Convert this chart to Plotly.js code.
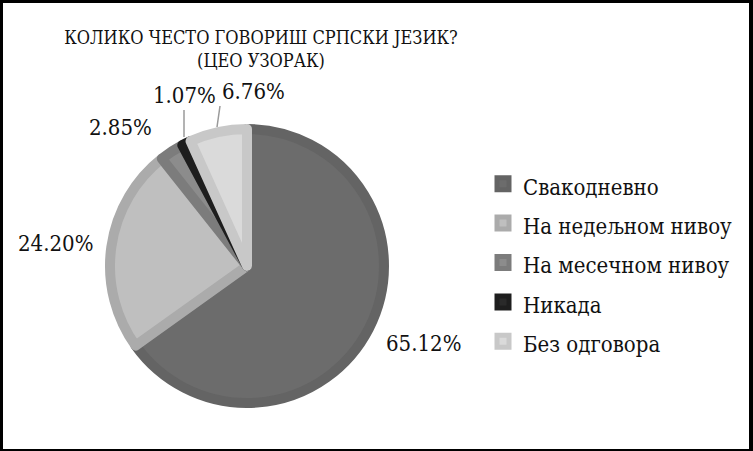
<!DOCTYPE html>
<html>
<head>
<meta charset="utf-8">
<script src="https://cdn.plot.ly/plotly-3.0.1.min.js"></script>
<style>
  html, body { margin:0; padding:0; background:#fff; }
  #frame { box-sizing:border-box; width:753px; height:451px;
           border-style:solid; border-color:#000; border-width:3px 4px 2px 3px; }
  #chart { width:746px; height:446px; }
</style>
</head>
<body>
<div id="frame"><div id="chart"></div></div>
<script>
const labels  = ['Свакодневно','На недељном нивоу','На месечном нивоу','Никада','Без одговора'];
const values  = [65.12, 24.20, 2.85, 1.07, 6.76];
const fills   = ['#6c6c6c','#bfbfbf','#8c8c8c','#2a2a2a','#dadada'];
const rings   = ['#646464','#ababab','#7c7c7c','#1e1e1e','#c8c8c8'];

const W = 746, H = 446, OX = 3, OY = 3;
const px = X => (X - OX) / W;
const py = Y => 1 - (Y - OY) / H;
const serif = 'DejaVu Serif Condensed';

// pie centre / radius in page pixels
const cx = 247, cy = 266, r = 137;

// label spots (page px): [text x, text y, tip x, tip y, xanchor, yanchor]
const spots = [
  [423, 343, null, null, 'center', 'middle'],
  [55, 243, null, null, 'center', 'middle'],
  [120, 127, null, null, 'center', 'middle'],
  [184, 110, 184, 137, 'center', 'bottom'],
  [220, 106, 217, 127, 'left', 'bottom'],
];

const annotations = values.map((v, i) => {
  const s = spots[i];
  const a = {
    text: v.toFixed(2) + '%', xref:'paper', yref:'paper',
    font:{family:serif, size:22, color:'#111'},
  };
  if (s[2] === null) {
    return {...a, x:px(s[0]), y:py(s[1]), showarrow:false, xanchor:s[4], yanchor:s[5]};
  }
  return {...a, x:px(s[2]), y:py(s[3]), showarrow:true, arrowhead:0,
    arrowwidth:1.5, arrowcolor:'#9a9a9a',
    ax:s[0]-s[2], ay:s[1]-s[3], xanchor:s[4], yanchor:s[5]};
});

Plotly.newPlot('chart', [{
  type:'pie',
  labels: labels.map(l => `<span style="font-size:22px">${l}</span>`),
  values: values,
  sort:false, direction:'clockwise', rotation:0,
  textinfo:'none', hoverinfo:'label+percent',
  marker:{colors:fills, line:{color:rings, width:10}},
  domain:{x:[px(cx - r), px(cx + r)], y:[py(cy + r), py(cy - r)]},
}], {
  width:W, height:H,
  margin:{t:0,r:0,b:0,l:0},
  paper_bgcolor:'#fff',
  showlegend:true,
  title:{
    text:'КОЛИКО ЧЕСТО ГОВОРИШ СРПСКИ ЈЕЗИК?<br>(ЦЕО УЗОРАК)',
    font:{family:serif, size:18, color:'#111'},
    x:px(261), xanchor:'center', y:py(44), yanchor:'middle',
  },
  legend:{
    x:px(483), xanchor:'left', y:py(159), yanchor:'top',
    font:{family:serif, size:28, color:'#111'},
    bgcolor:'rgba(0,0,0,0)', traceorder:'normal',
  },
  annotations: annotations,
}, {displayModeBar:false, staticPlot:true});
</script>
</body>
</html>
